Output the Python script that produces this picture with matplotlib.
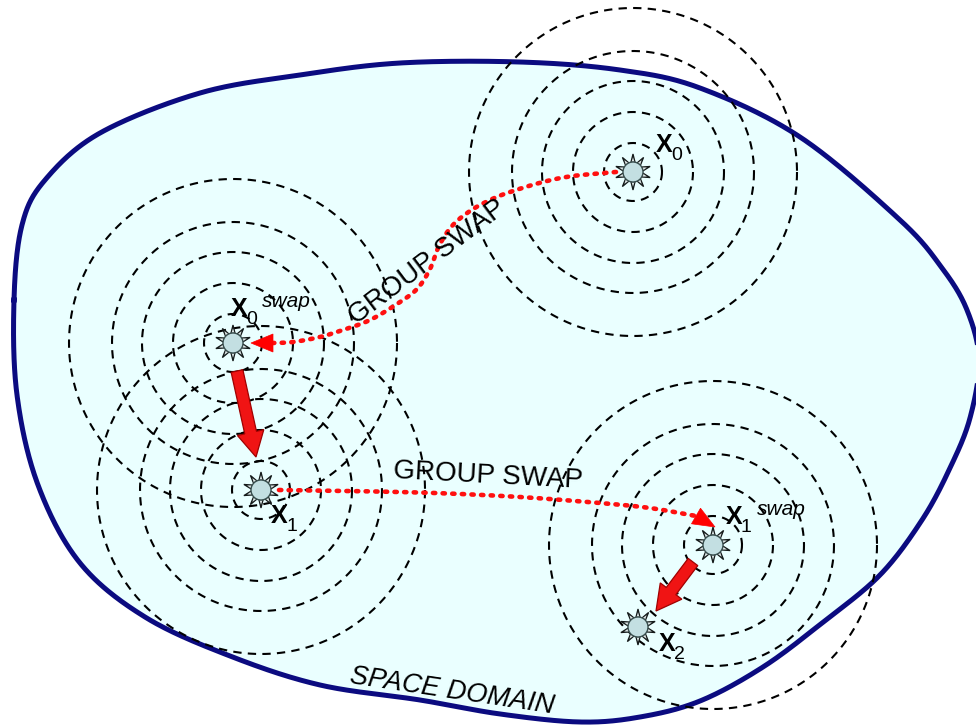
import numpy as np
import matplotlib
matplotlib.use("Agg")
import matplotlib.pyplot as plt
from matplotlib.patches import Polygon, Circle, FancyArrow

# ---------------- data (pixel coordinates of the diagram) ----------------
domain_outline = [(14, 300), (22, 225), (45, 180), (100, 133), (200, 93), (300, 75),
                  (400, 63), (520, 62), (620, 70), (700, 88), (800, 137), (900, 220),
                  (942, 268), (967, 310), (979, 360), (970, 418), (950, 468), (922, 520),
                  (880, 575), (822, 623), (763, 667), (700, 701), (640, 717),
                  (580, 722), (500, 714), (420, 700), (320, 685), (230, 656), (145, 617),
                  (80, 563), (38, 485), (17, 395)]

group_centers = [(633, 172), (233, 343), (261, 490), (713, 545)]
ring_radii = [29, 60, 91, 121, 164]
star_points = [(633, 172), (233, 343), (261, 490), (713, 545), (638, 627)]

swap_path_1 = [(616, 172), (573, 176), (543, 182), (510, 192), (490, 200), (470, 211),
               (452, 226), (439, 246), (430, 269), (417, 289), (397, 304), (370, 320),
               (343, 330), (320, 337), (293, 342), (272, 343)]
swap_path_2 = [(279, 490), (350, 491), (435, 493), (520, 497), (600, 503), (650, 508),
               (696, 516)]

move_arrows = [((237, 371), (256, 457)), ((693, 562), (656, 611))]

labels = [  # (x, y, main, subscript, superscript)
    (656, 152, "X", "0", ""),
    (231, 316, "X", "0", "swap"),
    (271, 523, "X", "1", ""),
    (726, 524, "X", "1", "swap"),
    (659, 651, "X", "2", ""),
]
swap_text = "GROUP SWAP"
domain_text = "SPACE DOMAIN"

# ---------------- helpers ----------------
def catmull(pts, n=30, closed=True):
    P = np.asarray(pts, float)
    N = len(P)
    if not closed:
        P = np.vstack([2 * P[0] - P[1], P, 2 * P[-1] - P[-2]])
        segs = range(1, N)
    else:
        segs = range(N)
    out = []
    t = np.linspace(0, 1, n, endpoint=False)[:, None]
    for i in segs:
        M = len(P)
        p0, p1, p2, p3 = P[(i - 1) % M], P[i % M], P[(i + 1) % M], P[(i + 2) % M]
        out.append(0.5 * (2 * p1 + (-p0 + p2) * t + (2 * p0 - 5 * p1 + 4 * p2 - p3) * t ** 2
                          + (-p0 + 3 * p1 - 3 * p2 + p3) * t ** 3))
    res = np.vstack(out)
    if closed:
        res = np.vstack([res, res[:1]])
    else:
        res = np.vstack([res, P[-2]])
    return res


def arrow_head(ax, base, tip, half_w, color):
    base = np.asarray(base, float); tip = np.asarray(tip, float)
    d = tip - base
    nrm = np.array([-d[1], d[0]]) / np.hypot(*d)
    poly = [tip, base + nrm * half_w, base - nrm * half_w]
    ax.add_patch(Polygon(poly, closed=True, facecolor=color, edgecolor=color, lw=0.5, zorder=6))


def star(ax, x, y):
    n = 10
    for k in range(n):
        a = 2 * np.pi * k / n + np.pi / 2
        da = 0.26
        p1 = (x + 9 * np.cos(a - da), y - 9 * np.sin(a - da))
        p2 = (x + 9 * np.cos(a + da), y - 9 * np.sin(a + da))
        tp = (x + 18 * np.cos(a), y - 18 * np.sin(a))
        ax.add_patch(Polygon([p1, tp, p2], closed=True, facecolor="#3f4a4a",
                             edgecolor="#151a1a", lw=0.9, zorder=7))
        inner = [(x + 10.5 * np.cos(a - 0.13), y - 10.5 * np.sin(a - 0.13)),
                 (x + 14.5 * np.cos(a), y - 14.5 * np.sin(a)),
                 (x + 10.5 * np.cos(a + 0.13), y - 10.5 * np.sin(a + 0.13))]
        ax.add_patch(Polygon(inner, closed=True, facecolor="#dfe8e8",
                             edgecolor="none", zorder=7.5))
    ax.add_patch(Circle((x, y), 10, facecolor="#c3dfe2", edgecolor="#3a5050",
                        lw=1.0, zorder=8))


# ---------------- figure ----------------
fig = plt.figure(figsize=(9.76, 7.28), dpi=100)
ax = fig.add_axes([0, 0, 1, 1])
ax.set_xlim(0, 976)
ax.set_ylim(728, 0)
ax.axis("off")

outline = catmull(domain_outline, n=40, closed=True)
ax.fill(outline[:, 0], outline[:, 1], color="#eaffff", zorder=1)
ax.plot(outline[:, 0], outline[:, 1], color="#0b0b80", lw=3.6, zorder=2,
        solid_joinstyle="round")

th = np.linspace(0, 2 * np.pi, 400)
for (cx, cy) in group_centers:
    for r in ring_radii:
        ax.plot(cx + r * np.cos(th), cy + r * np.sin(th), color="black", lw=1.5,
                linestyle=(0, (4.0, 3.0)), zorder=3)

# dotted group-swap paths
for path, head in ((swap_path_1, ((273, 343), (251, 343))),
                   (swap_path_2, ((696, 516), (715, 527)))):
    c = catmull(path, n=30, closed=False)
    ax.plot(c[:, 0], c[:, 1], color="#ff1010", lw=3.3, linestyle=(0, (0.5, 1.6)),
            dash_capstyle="round", zorder=5)
    arrow_head(ax, head[0], head[1], 9, "#ff0000")

# big red move arrows
for (s, e) in move_arrows:
    ax.add_patch(FancyArrow(s[0], s[1], e[0] - s[0], e[1] - s[1], width=12,
                            head_width=27, head_length=25, length_includes_head=True,
                            facecolor="#f01414", edgecolor="#a00000", lw=0.9, zorder=6))

for (x, y) in star_points:
    star(ax, x, y)

# labels
for (x, y, m, sub, sup) in labels:
    ax.text(x, y, m, fontsize=18, family="Liberation Sans", fontweight="bold",
            ha="left", va="baseline", zorder=9)
    ax.text(x + 15, y + 8, sub, fontsize=14, family="Liberation Sans",
            ha="left", va="baseline", zorder=9)
    if sup:
        ax.text(x + 31, y - 9, sup, fontsize=15, family="Liberation Sans",
                style="italic", ha="left", va="baseline", zorder=9)

ax.text(428, 262, swap_text, fontsize=20, family="Liberation Sans", rotation=37,
        rotation_mode="anchor", ha="center", va="center", zorder=9)
ax.text(488, 476, swap_text, fontsize=20, family="Liberation Sans", rotation=-3,
        rotation_mode="anchor", ha="center", va="center", zorder=9)
ax.text(452, 691, domain_text, fontsize=19.5, family="Liberation Sans", style="italic",
        rotation=-8.5, rotation_mode="anchor", ha="center", va="center", zorder=9)

fig.savefig("out.png", dpi=100)
